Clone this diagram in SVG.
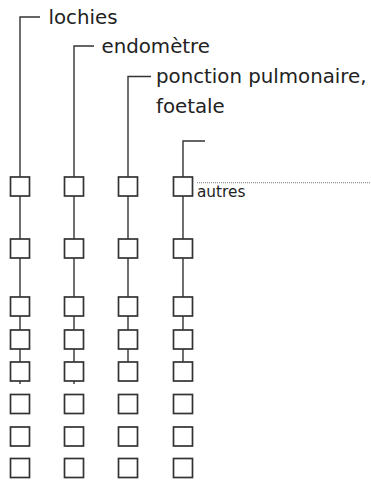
<svg xmlns="http://www.w3.org/2000/svg" width="371" height="482" viewBox="0 0 371 482">
<style>
.bg{fill:#fff}
.box{fill:#fff;stroke:#333;stroke-width:1.7}
.ln{fill:none;stroke:#333;stroke-width:1.4}
.dot{fill:none;stroke:#555;stroke-width:0.8;stroke-dasharray:1 1}
.lbl{font-family:"DejaVu Sans",sans-serif;font-size:19.8px;fill:#222}
.sm{font-family:"DejaVu Sans",sans-serif;font-size:15.3px;fill:#222}
</style>
<defs>
<rect id="b" class="box" x="-9.5" y="0" width="19" height="19"/>
</defs>
<rect class="bg" x="0" y="0" width="371" height="482"/>
<g id="connectors">
<polyline class="ln" points="40,17 20,17 20,384"/>
<polyline class="ln" points="94,46 74,46 74,384"/>
<polyline class="ln" points="151,76.5 128,76.5 128,362"/>
<polyline class="ln" points="205,141 183,141 183,362"/>
<line class="dot" x1="197" y1="182.7" x2="371" y2="182.7"/>
</g>
<g id="labels">
<text class="lbl" x="48.5" y="23.5">lochies</text>
<text class="lbl" x="101.5" y="52.5">endomètre</text>
<text class="lbl" x="156" y="83">ponction pulmonaire,</text>
<text class="lbl" x="156" y="113">foetale</text>
<text class="sm" x="197" y="197">autres</text>
</g>
<g id="col1">
<use href="#b" x="20" y="177"/><use href="#b" x="20" y="239"/><use href="#b" x="20" y="297"/><use href="#b" x="20" y="330"/><use href="#b" x="20" y="362"/><use href="#b" x="20" y="394.5"/><use href="#b" x="20" y="427"/><use href="#b" x="20" y="458.5"/>
</g>
<g id="col2">
<use href="#b" x="74" y="177"/><use href="#b" x="74" y="239"/><use href="#b" x="74" y="297"/><use href="#b" x="74" y="330"/><use href="#b" x="74" y="362"/><use href="#b" x="74" y="394.5"/><use href="#b" x="74" y="427"/><use href="#b" x="74" y="458.5"/>
</g>
<g id="col3">
<use href="#b" x="128" y="177"/><use href="#b" x="128" y="239"/><use href="#b" x="128" y="297"/><use href="#b" x="128" y="330"/><use href="#b" x="128" y="362"/><use href="#b" x="128" y="394.5"/><use href="#b" x="128" y="427"/><use href="#b" x="128" y="458.5"/>
</g>
<g id="col4">
<use href="#b" x="183" y="177"/><use href="#b" x="183" y="239"/><use href="#b" x="183" y="297"/><use href="#b" x="183" y="330"/><use href="#b" x="183" y="362"/><use href="#b" x="183" y="394.5"/><use href="#b" x="183" y="427"/><use href="#b" x="183" y="458.5"/>
</g>
</svg>
